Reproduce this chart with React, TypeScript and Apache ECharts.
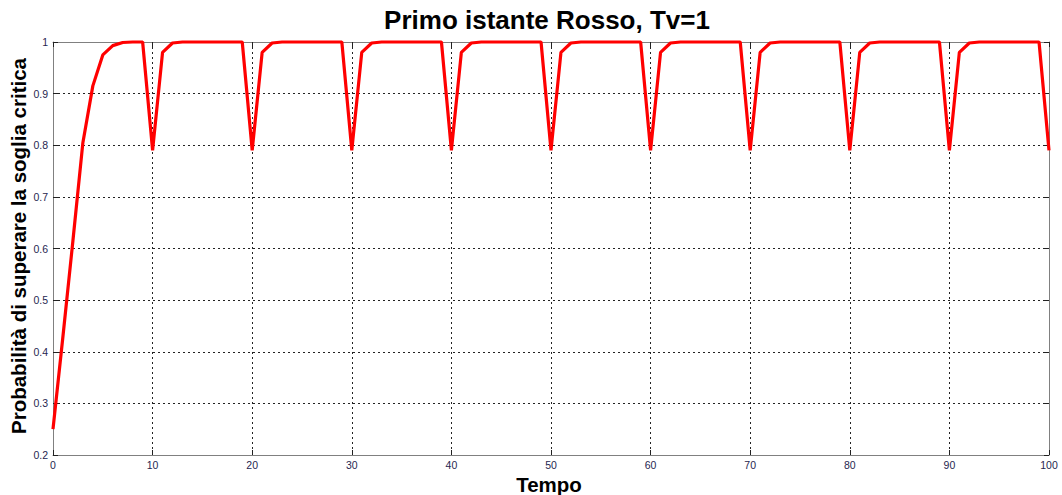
import React, { useEffect, useRef } from "react";
import * as echarts from "echarts";

const title = "Primo istante Rosso, Tv=1";
const xName = "Tempo";
const yName = "Probabilità di superare la soglia critica";

const tempo: number[] = Array.from({ length: 101 }, (_, i) => i);
const probabilita: number[] = [
  0.25, 0.43, 0.615, 0.805, 0.915, 0.975, 0.993, 0.999, 1, 1,
  0.79, 0.98, 0.998, 1, 1, 1, 1, 1, 1, 1,
  0.79, 0.98, 0.998, 1, 1, 1, 1, 1, 1, 1,
  0.79, 0.98, 0.998, 1, 1, 1, 1, 1, 1, 1,
  0.79, 0.98, 0.998, 1, 1, 1, 1, 1, 1, 1,
  0.79, 0.98, 0.998, 1, 1, 1, 1, 1, 1, 1,
  0.79, 0.98, 0.998, 1, 1, 1, 1, 1, 1, 1,
  0.79, 0.98, 0.998, 1, 1, 1, 1, 1, 1, 1,
  0.79, 0.98, 0.998, 1, 1, 1, 1, 1, 1, 1,
  0.79, 0.98, 0.998, 1, 1, 1, 1, 1, 1, 1,
  0.79,
];

const FONT = "Arial, 'Liberation Sans', sans-serif";
const LABEL_COLOR = "#262650";

export default function App() {
  const ref = useRef<HTMLDivElement>(null);
  useEffect(() => {
    if (!ref.current) return;
    const chart = echarts.init(ref.current, undefined, { renderer: "svg" });
    const gridLine = { show: true, lineStyle: { color: "#222", width: 1, type: [2, 3] as any } };
    const axisLine = { show: true, onZero: false, lineStyle: { color: "#808080", width: 1 } };
    const tick = { show: true, inside: true, length: 5, lineStyle: { color: "#222" } };
    chart.setOption({
      animation: false,
      backgroundColor: "#fff",
      graphic: [
        {
          type: "text",
          x: 547,
          y: 20,
          style: {
            text: title,
            font: `bold 26px ${FONT}`,
            fill: "#000",
            align: "center",
            verticalAlign: "middle",
          },
        },
        {
          type: "text",
          x: 549,
          y: 484,
          style: {
            text: xName,
            font: `bold 20.5px ${FONT}`,
            fill: "#000",
            align: "center",
            verticalAlign: "middle",
          },
        },
        {
          type: "text",
          x: 18,
          y: 246,
          rotation: Math.PI / 2,
          style: {
            text: yName,
            font: `bold 20.5px ${FONT}`,
            fill: "#000",
            align: "center",
            verticalAlign: "middle",
          },
        },
      ],
      grid: { left: 53, right: 13, top: 42, bottom: 40, containLabel: false, outerBoundsMode: "none" },
      xAxis: [
        {
          type: "value",
          min: 0,
          max: 100,
          interval: 10,
          axisLine,
          axisTick: tick,
          axisLabel: { fontFamily: FONT, fontSize: 10.5, color: LABEL_COLOR, margin: 4 },
          splitLine: gridLine,
        },
        {
          type: "value",
          position: "top",
          min: 0,
          max: 100,
          interval: 10,
          axisLine,
          axisTick: tick,
          axisLabel: { show: false },
          splitLine: { show: false },
        },
      ],
      yAxis: [
        {
          type: "value",
          min: 0.2,
          max: 1,
          interval: 0.1,
          axisLine,
          axisTick: tick,
          axisLabel: { fontFamily: FONT, fontSize: 10.5, color: LABEL_COLOR, margin: 5 },
          splitLine: gridLine,
        },
        {
          type: "value",
          position: "right",
          min: 0.2,
          max: 1,
          interval: 0.1,
          axisLine,
          axisTick: tick,
          axisLabel: { show: false },
          splitLine: { show: false },
        },
      ],
      series: [
        {
          type: "line",
          data: tempo.map((t, i) => [t, probabilita[i]]),
          showSymbol: false,
          symbol: "none",
          lineStyle: { color: "#ff0000", width: 3.2 },
          clip: false,
        },
      ],
    });
    return () => chart.dispose();
  }, []);
  return (
    <div
      ref={ref}
      style={{ position: "absolute", left: 0, top: 0, width: 1062, height: 495 }}
    />
  );
}
